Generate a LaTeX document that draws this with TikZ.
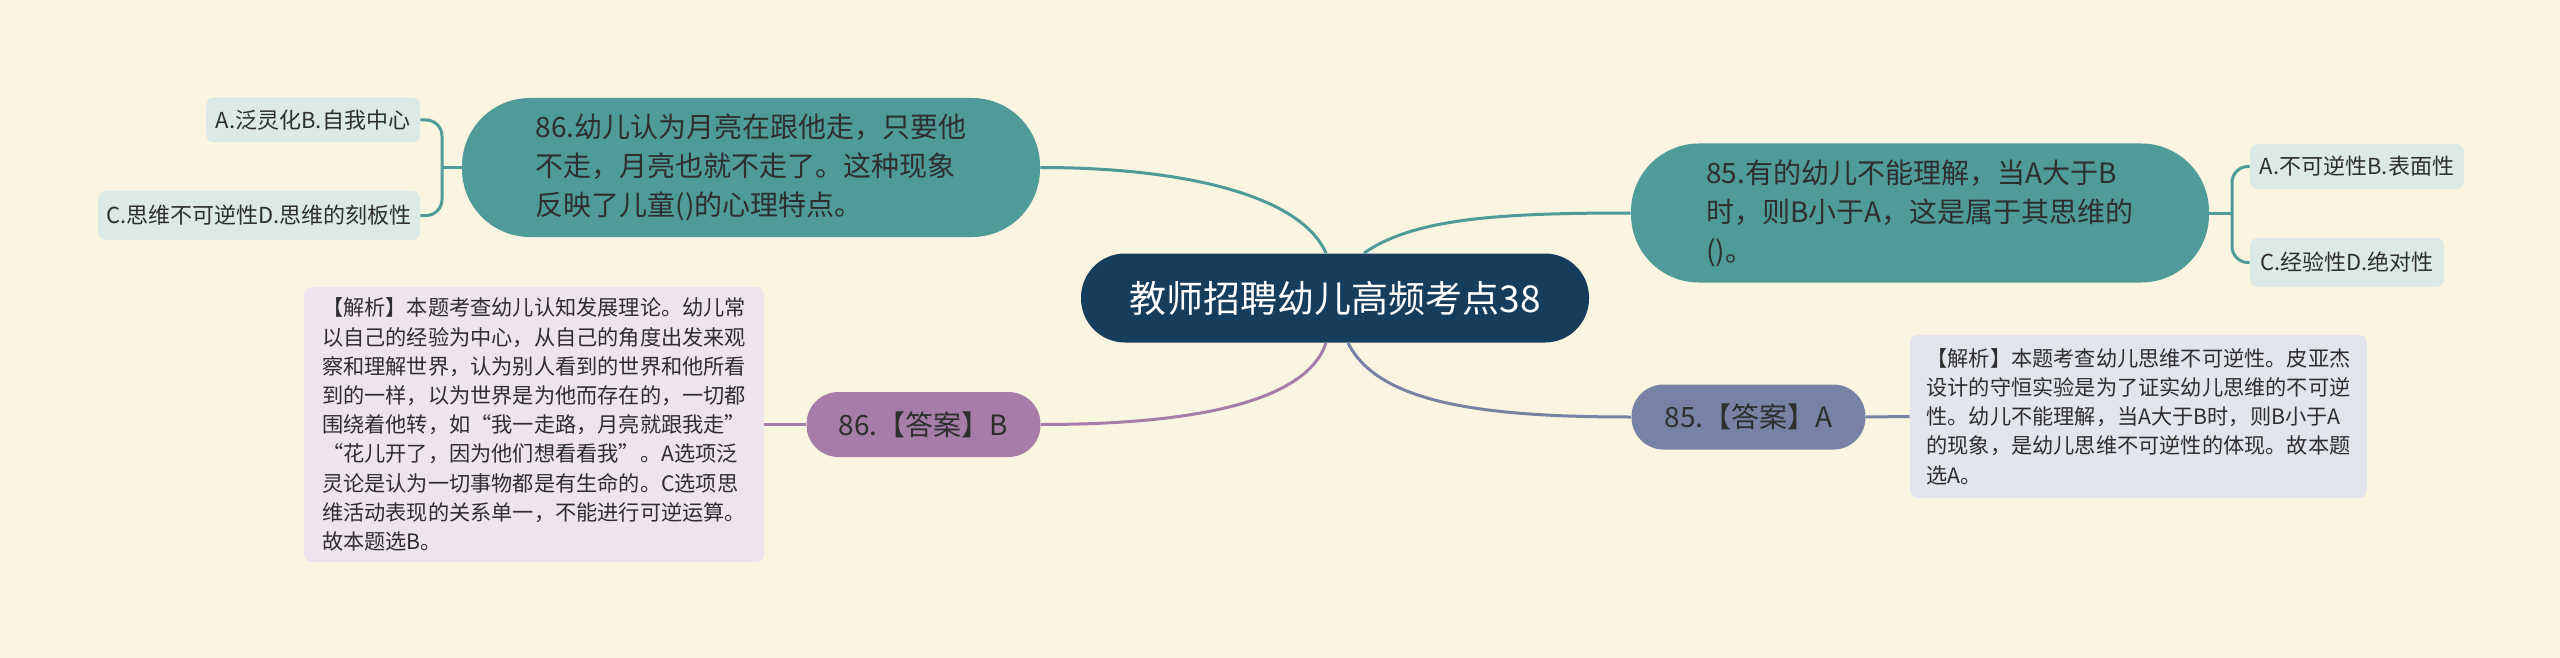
\documentclass[tikz,border=0pt]{standalone}
\usepackage{fontspec}
\setmainfont{Noto Sans CJK SC}
\definecolor{bgc}{HTML}{FAF5E1}
\definecolor{rootc}{HTML}{173D5C}
\definecolor{tealc}{HTML}{4E9B99}
\definecolor{childc}{HTML}{DCE9E7}
\definecolor{purpc}{HTML}{A67DA9}
\definecolor{lavc}{HTML}{EEE4EE}
\definecolor{slatec}{HTML}{7882A5}
\definecolor{greyc}{HTML}{E3E5EC}
\definecolor{txtc}{HTML}{2E2E2E}
\begin{document}
\begin{tikzpicture}[x=0.5pt,y=-0.5pt,
  conn/.style={line width=1.5pt},
  rootnode/.style={fill=rootc, text=white, rounded corners=22pt, minimum width=254pt, minimum height=44.5pt, inner sep=0pt, font=\fontsize{18.5}{22}\selectfont},
  qnode/.style={fill=tealc, text=txtc, rounded corners=34pt, minimum width=289pt, minimum height=69.5pt, align=left, inner sep=0pt, font=\fontsize{14}{19.5}\selectfont},
  childnode/.style={fill=childc, text=txtc, rounded corners=4pt, minimum height=22.5pt, inner sep=0pt, font=\fontsize{11}{13}\selectfont},
  ansnode/.style={text=txtc, rounded corners=16pt, minimum height=32.5pt, minimum width=117pt, inner sep=0pt, font=\fontsize{14}{17}\selectfont},
  explnode/.style={text=txtc, rounded corners=4pt, align=left, inner sep=0pt, font=\fontsize{10.6}{14.6}\selectfont}
]
\fill[bgc] (0,0) rectangle (2560,658);
\useasboundingbox (0,0) rectangle (2560,658);

% nodes
\node[rootnode] (root) at (1335,298) {教师招聘幼儿高频考点38};

\node[qnode] (q86) at (751,167.5) {86.幼儿认为月亮在跟他走，只要他\\不走，月亮也就不走了。这种现象\\反映了儿童()的心理特点。};
\node[qnode] (q85) at (1920,213) {85.有的幼儿不能理解，当A大于B\\时，则B小于A，这是属于其思维的\\()。};

\node[childnode, minimum width=107pt] (c86a) at (313,120) {A.泛灵化B.自我中心};
\node[childnode, minimum width=161pt, minimum height=24.5pt] (c86b) at (259,215.5) {C.思维不可逆性D.思维的刻板性};
\node[childnode, minimum width=107pt] (c85a) at (2357,166.5) {A.不可逆性B.表面性};
\node[childnode, minimum width=97pt, minimum height=24.5pt] (c85b) at (2347,262.5) {C.经验性D.绝对性};

\node[ansnode, fill=purpc] (a86) at (923.5,424.5) {86.【答案】B};
\node[ansnode, fill=slatec] (a85) at (1748.5,417) {85.【答案】A};

\node[explnode, fill=lavc, minimum width=230pt, minimum height=137.5pt] (e86) at (534,424.5) {【解析】本题考查幼儿认知发展理论。幼儿常\\以自己的经验为中心，从自己的角度出发来观\\察和理解世界，认为别人看到的世界和他所看\\到的一样，以为世界是为他而存在的，一切都\\围绕着他转，如“我一走路，月亮就跟我走”\\“花儿开了，因为他们想看看我”。A选项泛\\灵论是认为一切事物都是有生命的。C选项思\\维活动表现的关系单一，不能进行可逆运算。\\故本题选B。};
\node[explnode, fill=greyc, minimum width=228.5pt, minimum height=81.5pt] (e85) at (2138.5,416.5) {【解析】本题考查幼儿思维不可逆性。皮亚杰\\设计的守恒实验是为了证实幼儿思维的不可逆\\性。幼儿不能理解，当A大于B时，则B小于A\\的现象，是幼儿思维不可逆性的体现。故本题\\选A。};

% main connectors
\draw[conn, tealc] ([xshift=-4.5pt]root.north) .. controls +(-26,-59) and +(140,0) .. (q86.east);
\draw[conn, tealc] ([xshift=14.5pt]root.north) .. controls +(50,-35) and +(-130,0) .. (q85.west);
\draw[conn, purpc] ([xshift=-4.5pt]root.south) .. controls +(-20,60) and +(150,0) .. (a86.east);
\draw[conn, slatec] ([xshift=6.5pt]root.south) .. controls +(30,60) and +(-150,0) .. (a85.west);

\draw[conn, purpc] (a86.west) -- (e86.east);
\draw[conn, slatec] (a85.east) -- (e85.west);

% brackets
\coordinate (b86) at (442,167.5);
\coordinate (b85) at (2232,213);
\draw[conn, tealc] (q86.west) -- (b86);
\draw[conn, tealc, rounded corners=8pt] (c86a.east) -| (b86);
\draw[conn, tealc, rounded corners=8pt] (c86b.east) -| (b86);
\draw[conn, tealc] (q85.east) -- (b85);
\draw[conn, tealc, rounded corners=8pt] (c85a.west) -| (b85);
\draw[conn, tealc, rounded corners=8pt] (c85b.west) -| (b85);
\end{tikzpicture}
\end{document}
